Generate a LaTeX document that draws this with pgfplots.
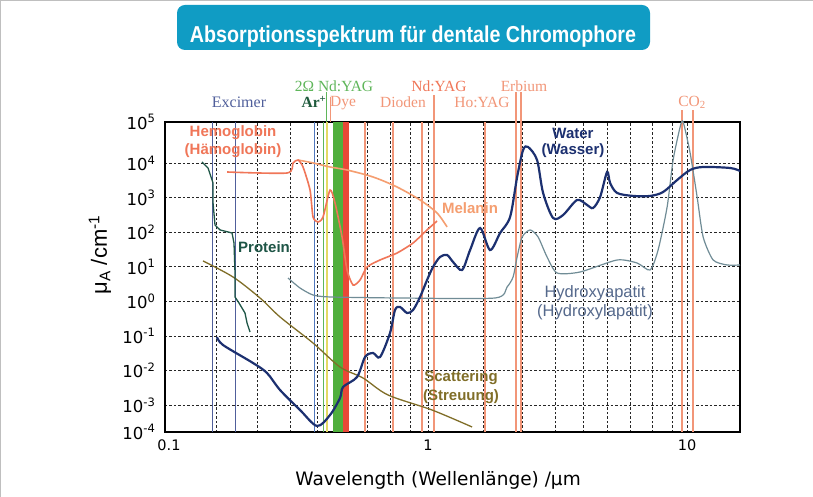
\documentclass[border=0pt]{standalone}
\usepackage{pgfplots}
\pgfplotsset{compat=1.18}
\usepackage{fontspec}
\setmainfont{Liberation Sans}
\newfontfamily\serif{Liberation Serif}
\newfontfamily\dejavu{DejaVu Sans}
\definecolor{titlebg}{RGB}{16,156,196}
\definecolor{water}{RGB}{28,48,112}
\definecolor{protein}{RGB}{30,85,70}
\definecolor{hb}{RGB}{240,118,88}
\definecolor{mel}{RGB}{245,158,112}
\definecolor{hap}{RGB}{112,140,150}
\definecolor{scat}{RGB}{128,110,40}
\definecolor{laser}{RGB}{242,150,120}
\definecolor{exc}{RGB}{80,95,155}
\definecolor{nd2}{RGB}{95,182,90}
\definecolor{argreen}{RGB}{30,90,60}
\definecolor{band}{RGB}{80,175,60}
\definecolor{redband}{RGB}{232,72,55}
\definecolor{ylw}{RGB}{228,218,100}
\definecolor{arblue}{RGB}{80,120,190}
\definecolor{haplbl}{RGB}{85,105,140}
\begin{document}
\begin{tikzpicture}
\useasboundingbox (0,0) rectangle (813pt,497pt);
\fill[white] (0,0) rectangle (813pt,497pt);
\draw[black!25, line width=1pt] (0,496.5pt) -- (813pt,496.5pt);
\draw[black!25, line width=1pt] (0.5pt,0) -- (0.5pt,497pt);
\fill[titlebg, rounded corners=8pt] (177pt,447pt) rectangle (650pt,492pt);
\node[white, anchor=base, inner sep=0pt] at (413pt,454pt) {\resizebox{446pt}{\height}{\fontsize{23}{23}\selectfont\bfseries Absorptionsspektrum für dentale Chromophore}};
\begin{axis}[
  at={(165pt,65pt)}, anchor=south west,
  scale only axis, width=575pt, height=310pt,
  xmode=log, ymode=log,
  xmin=0.0965, xmax=16, ymin=1.654e-4, ymax=1.58e5,
  clip=false,
  axis line style={black, line width=1.6pt},
  xtick={0.1,1,10}, xticklabels={0.1,1,10},
  minor xtick={0.153,0.219,0.293,0.373,0.581,0.713,0.852,1,1.63,2.31,3.09,3.97,4.91,6.03,7.32,8.75,10},
  xminorgrids=true, xmajorgrids=false,
  ytick={1.654e-4,1e-3,1e-2,1e-1,1,10,100,1000,1e4,1.58e5},
  yticklabels={10\textsuperscript{-4},10\textsuperscript{-3},10\textsuperscript{-2},10\textsuperscript{-1},10\textsuperscript{0},10\textsuperscript{1},10\textsuperscript{2},10\textsuperscript{3},10\textsuperscript{4},10\textsuperscript{5}},
  ymajorgrids=true, yminorgrids=false,
  major grid style={black!85, line width=0.9pt, dash pattern=on 2.5pt off 2pt},
  minor grid style={black!85, line width=0.9pt, dash pattern=on 2.5pt off 2pt},
  tick style={draw=none},
  xticklabel style={font=\dejavu\fontsize{14.5}{14.5}\selectfont, yshift=-4pt},
  yticklabel style={font=\dejavu\fontsize{16.5}{16.5}\selectfont, xshift=-6pt},
  xlabel={Wavelength (Wellenlänge) /μm},
  xlabel style={font=\dejavu\fontsize{18.5}{18.5}\selectfont, at={(axis description cs:0.475,-0.155)}, anchor=center},
  ylabel={μ\textsubscript{A} /cm\textsuperscript{-1}},
  ylabel style={font=\fontsize{22}{22}\selectfont, at={(axis description cs:-0.113,0.571)}, anchor=center},
]
% laser lines
\addplot[exc, line width=1pt] coordinates {(0.1466,1.654e-4) (0.1466,1.58e5)};
\addplot[exc, line width=1pt] coordinates {(0.1814,1.654e-4) (0.1814,1.58e5)};
\addplot[arblue, line width=1pt] coordinates {(0.3629,1.654e-4) (0.3629,1.58e5)};
\addplot[nd2, line width=1pt] coordinates {(0.3932,1.654e-4) (0.3932,1.58e5)};
\addplot[nd2, line width=1pt] coordinates {(0.405,1.58e5) (0.405,1.17e6)};
\addplot[laser, line width=1pt] coordinates {(0.422,1.58e5) (0.422,8.4e5)};
\addplot[ylw, line width=1.2pt] coordinates {(0.4074,1.654e-4) (0.4074,1.58e5)};
\addplot[band, line width=10pt] coordinates {(0.4494,1.654e-4) (0.4494,1.58e5)};
\addplot[redband, line width=6pt] coordinates {(0.4826,1.654e-4) (0.4826,1.58e5)};
\addplot[laser, line width=1.3pt] coordinates {(0.5711,1.654e-4) (0.5711,1.58e5)};
\addplot[laser, line width=1.3pt] coordinates {(0.7328,1.654e-4) (0.7328,1.58e5)};
\addplot[laser, line width=1.3pt] coordinates {(0.9480,1.654e-4) (0.9480,1.58e5)};
\addplot[laser, line width=1.3pt] coordinates {(1.0548,1.654e-4) (1.0548,9.57e5)};
\addplot[laser, line width=1.3pt] coordinates {(1.660,1.654e-4) (1.660,1.58e5)};
\addplot[laser, line width=1.3pt] coordinates {(2.187,1.654e-4) (2.187,1.17e6)};
\addplot[laser, line width=1.3pt] coordinates {(2.286,1.654e-4) (2.286,1.17e6)};
\addplot[laser, line width=1.5pt] coordinates {(9.565,1.654e-4) (9.565,3.5e5)};
\addplot[laser, line width=1.5pt] coordinates {(10.55,1.654e-4) (10.55,3.5e5)};
% Scattering
\addplot[scat, line width=1.3pt, smooth] coordinates {(0.1353,14.9) (0.1767,5.11) (0.2246,1.26) (0.2683,0.355) (0.3597,0.0626) (0.4573,0.0126) (0.5610,0.00606) (0.7008,0.00195) (1.036,7.17e-4) (1.479,2.31e-4)};
% Protein
\addplot[protein, line width=1.3pt] coordinates {(0.1341,1.10e4) (0.1415,7.35e3) (0.1479,2.70e3) (0.1479,712) (0.1505,164) (0.1574,118) (0.1751,96.2) (0.1782,49.4) (0.1798,6.67) (0.1798,1.35) (0.1863,0.903) (0.1965,0.463) (0.2001,0.238) (0.2055,0.130)};
% Hydroxyapatite
\addplot[hap, line width=1.2pt, smooth, tension=0.4] coordinates {(0.2880,4.78) (0.3205,2.45) (0.3597,1.54) (0.4184,1.35) (0.7795,1.26) (1.814,1.26) (2.018,2.62) (2.129,5.11) (2.207,19.4) (2.307,73.7) (2.477,118) (2.659,73.7) (2.880,19.4) (3.149,6.67) (3.863,7.14) (5.366,15.9) (6.411,13.0) (7.196,8.15) (7.727,30.9) (8.371,545) (8.829,12500) (9.397,113000) (9.652,158000) (10.27,20000) (10.93,1060) (11.53,73.7) (12.60,15.9) (14.27,11.4) (16,11.4)};
% Melanin
\addplot[mel, line width=1.6pt, smooth] coordinates {(0.3149,12500) (0.3597,10300) (0.4184,7860) (0.4867,6430) (0.6133,4030) (0.7589,2070) (0.9314,869) (1.083,365) (1.184,144)};
% Hemoglobin
\addplot[hb, line width=1.6pt, smooth, tension=0.4] coordinates {(0.1675,5630) (0.2855,5260) (0.3012,10300) (0.3149,12500) (0.3291,7860) (0.3503,1690) (0.3597,280) (0.3761,200) (0.3932,280) (0.4184,1690) (0.4374,712) (0.4656,73.7) (0.4867,8.15) (0.5133,3.00) (0.5463,4.18) (0.5814,9.96) (0.6526,15.9) (0.7589,25.3) (0.8752,49.4) (0.9911,118) (1.083,214)};
% Water
\addplot[water, line width=2.2pt, smooth, tension=0.5] coordinates {(0.1532,0.0934) (0.1616,0.0548) (0.2110,0.0165) (0.2389,0.00847) (0.2683,0.00272) (0.3205,7.17e-4) (0.3728,2.47e-4) (0.4184,5.14e-4) (0.4573,0.00160) (0.4697,0.00333) (0.5320,0.00648) (0.5711,0.0246) (0.6133,0.0321) (0.6526,0.0246) (0.7132,0.122) (0.7456,0.566) (0.7795,0.691) (0.8296,0.463) (0.8752,0.566) (0.9314,1.35) (0.9911,4.18) (1.045,9.96) (1.112,19.4) (1.184,22.2) (1.249,13.9) (1.353,8.15) (1.453,30.9) (1.588,134) (1.735,30.9) (1.897,96.2) (2.073,280) (2.207,4030) (2.327,24400) (2.433,29800) (2.635,12500) (2.780,1390) (3.038,262) (3.321,320) (3.761,869) (4.111,623) (4.336,510) (4.614,1060) (4.910,5630) (5.043,2700) (5.366,1390) (6.187,1140) (7.196,1140) (8.078,1480) (9.150,3300) (10.27,6430) (11.53,7860) (14.66,7350) (16,6020)};
\end{axis}
% curve labels
\begin{scope}[every node/.style={inner sep=0pt, anchor=center}]
\node[hb, font=\fontsize{15}{15}\selectfont\bfseries] at (233pt,364pt) {Hemoglobin};
\node[hb, font=\fontsize{15}{15}\selectfont\bfseries] at (233pt,346pt) {(Hämoglobin)};
\node[protein, font=\fontsize{15}{15}\selectfont\bfseries] at (264pt,250pt) {Protein};
\node[mel, font=\fontsize{15}{15}\selectfont\bfseries] at (470pt,289pt) {Melanin};
\node[water, font=\fontsize{15}{15}\selectfont\bfseries] at (573pt,364pt) {Water};
\node[water, font=\fontsize{15}{15}\selectfont\bfseries] at (573pt,346pt) {(Wasser)};
\node[haplbl, font=\fontsize{16.5}{16.5}\selectfont] at (595pt,204pt) {Hydroxyapatit};
\node[haplbl, font=\fontsize{16.5}{16.5}\selectfont] at (595pt,185pt) {(Hydroxylapatit)};
\node[scat, font=\fontsize{15}{15}\selectfont\bfseries] at (461pt,119pt) {Scattering};
\node[scat, font=\fontsize{15}{15}\selectfont\bfseries] at (461pt,100pt) {(Streuung)};
% laser labels
\node[exc, font=\serif\fontsize{16}{16}\selectfont] at (239pt,395pt) {Excimer};
\node[nd2, font=\serif\fontsize{15.5}{15.5}\selectfont] at (334pt,411pt) {2Ω Nd:YAG};
\node[argreen, font=\serif\fontsize{15.5}{15.5}\selectfont\bfseries] at (314pt,395pt) {Ar\textsuperscript{+}};
\node[laser, font=\serif\fontsize{15.5}{15.5}\selectfont] at (343pt,394pt) {Dye};
\node[laser, font=\serif\fontsize{15.5}{15.5}\selectfont] at (403pt,395pt) {Dioden};
\node[hb, font=\serif\fontsize{15.5}{15.5}\selectfont] at (439pt,411pt) {Nd:YAG};
\node[laser, font=\serif\fontsize{15.5}{15.5}\selectfont] at (482pt,395pt) {Ho:YAG};
\node[laser, font=\serif\fontsize{15.5}{15.5}\selectfont] at (524pt,411pt) {Erbium};
\node[laser, font=\serif\fontsize{15.5}{15.5}\selectfont] at (692pt,395pt) {CO\textsubscript{2}};
\end{scope}
\end{tikzpicture}
\end{document}
